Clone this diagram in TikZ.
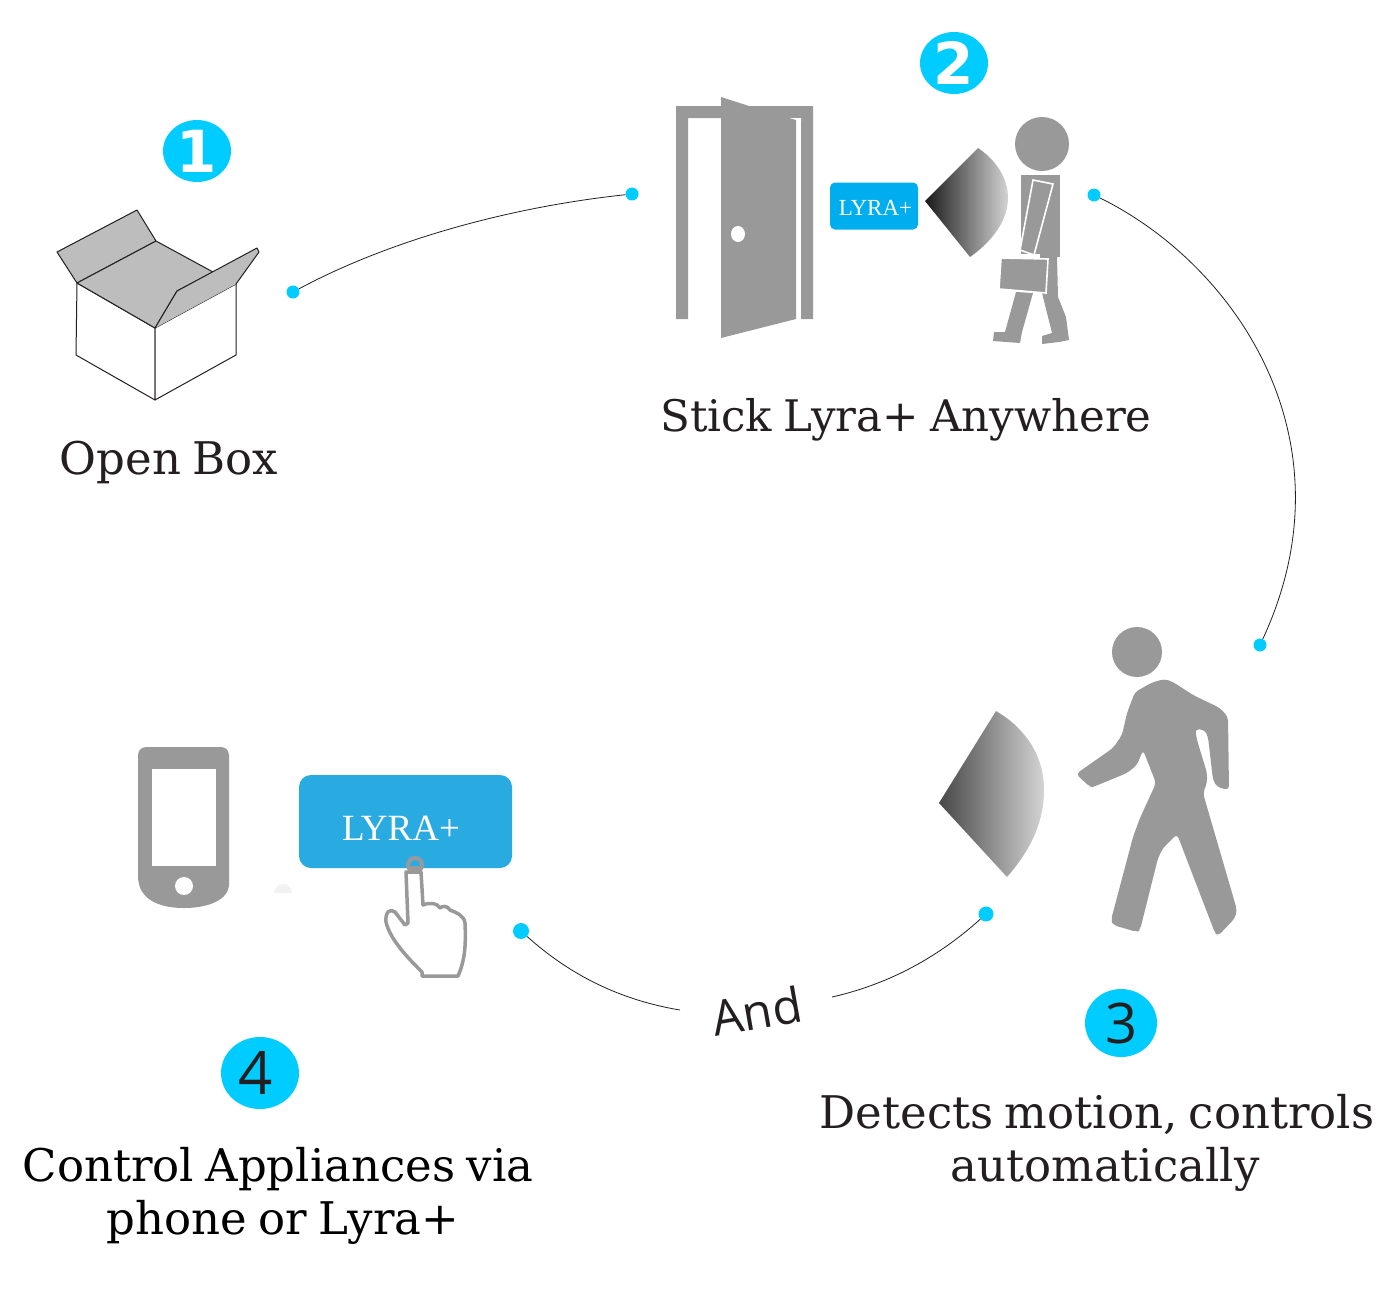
\documentclass[tikz,border=0pt]{standalone}
\usepackage{fontspec}
\setmainfont[WordSpace=0.8]{DejaVu Serif}
\setsansfont{Open Sans}
\newfontfamily\boxfont{Liberation Serif}
\newfontfamily\digitfont{DejaVu Sans}
\usetikzlibrary{shapes.geometric}

\definecolor{badgeblue}{HTML}{00CCFF}
\definecolor{figgray}{HTML}{999999}
\definecolor{flapgray}{HTML}{BDBDBD}
\definecolor{smallblue}{HTML}{00AEEF}
\definecolor{bigblue}{HTML}{29ABE2}
\definecolor{inkgray}{HTML}{231F20}

\tikzset{
  dot/.style={circle,fill=badgeblue,inner sep=0pt,minimum size=#1},
  badge/.style={ellipse,fill=badgeblue,inner sep=0pt},
  caption/.style={inkgray,font=\fontsize{#1}{53}\selectfont,align=center,inner sep=0pt},
  caption/.default=45,
  link/.style={draw=inkgray,line width=0.8pt},
  boxline/.style={draw=inkgray,line width=1pt,line join=round},
  lyra/.style={rectangle,text=white,inner sep=0pt,font=\boxfont}
}

\begin{document}
\begin{tikzpicture}[x=1pt,y=-1pt]

  \useasboundingbox (0,0) rectangle (1388,1299);

  %% connectors
  \node[dot=13pt] (dotA) at (293,292) {};
  \node[dot=13pt] (dotB) at (632,194) {};
  \node[dot=13pt] (dotC) at (1094,195) {};
  \node[dot=13pt] (dotD) at (1260,645) {};
  \node[dot=15pt] (dotE) at (986,914) {};
  \node[dot=16pt] (dotF) at (521,931) {};
  \coordinate (andR) at (832,997);
  \coordinate (andL) at (680,1010);

  \draw[link] (dotA) .. controls (390,240) and (510,207) .. (dotB);
  \draw[link] (dotC) .. controls (1236,265) and (1355,440) .. (dotD);
  \draw[link] (dotE) .. controls (935,960) and (885,985) .. (andR);
  \draw[link] (andL) .. controls (620,1000) and (570,975) .. (dotF);

  \node[rotate=10,font=\sffamily\fontsize{48.5}{48.5}\selectfont,text=inkgray,inner sep=0pt]
    (andText) at (757,1011) {And};

  %% box
  \draw[boxline,fill=white] (77,283)--(155,328)--(155,400)--(76,355)--cycle;
  \draw[boxline,fill=white] (155,328)--(236,284)--(236,355)--(155,400)--cycle;
  \draw[boxline,fill=flapgray] (57,252)--(137,210)--(156,241)--(77,283)--cycle;
  \draw[boxline,fill=flapgray] (77,283)--(156,241)--(213,272)--(177,291)--(155,328)--cycle;
  \fill[flapgray] (177,291)--(257,248)--(259,252)--(236,284)--(155,328)--cycle;
  \draw[boxline] (155,328)--(177,291)--(257,248)--(259,252)--(236,284);

  %% door
  \fill[figgray] (676,319)--(676,106)--(813,106)--(813,319)--(801,319)--(801,118)
    --(688,118)--(688,319)--cycle;
  \fill[white] (789,118)--(801,118)--(801,122)--(796,122)--cycle;
  \fill[figgray] (721,97)--(749,106)--(760,118)--(789,118)--(796,120)--(796,319)
    --(721,338)--cycle;
  \fill[white] (738,234) ellipse (7 and 8);

  %% small device and sensor cone
  \node[lyra,fill=smallblue,rounded corners=5pt,minimum width=88pt,minimum height=47pt]
    (lyraSmall) at (874,206) {};
  \node[lyra,font=\boxfont\fontsize{23}{23}\selectfont] (lyraSmallText) at (875.5,208) {LYRA+};
  \shade[left color=black!90,right color=black!17]
    (925,201)--(978,148) .. controls (996,160) and (1008,178) .. (1008,198)
    .. controls (1008,222) and (990,243) .. (970,257)--cycle;

  %% man with briefcase
  \fill[figgray] (1042,144) circle (27);
  \fill[figgray] (1021,175)--(1060,175)--(1060,257)--(1021,257)--cycle;
  \fill[figgray] (1016,292)--(1005,332)--(994,332)--(993,341)--(1020,343)--(1022,332)
    --(1033,293)--cycle;
  \fill[figgray] (1042,293)--(1052,333)--(1042,336)--(1042,344)--(1059,342)--(1069,340)
    --(1066,317)--(1058,297)--(1057,257)--(1035,257)--cycle;
  \draw[draw=white,line width=1.6pt,fill=figgray] (1033,180)--(1053,184)--(1034,255)
    --(1020,250)--cycle;
  \fill[white] (1021,254) rectangle (1040,258);
  \draw[draw=white,line width=1.6pt,fill=figgray] (1001,258)--(1048,259)--(1046,293)
    --(999,289)--cycle;

  %% walker and its cone
  \fill[figgray] (1137,652) circle (25);
  \fill[figgray,rounded corners=4pt] (1135,692)--(1153,682)--(1165,679)--(1173,682)
    --(1193,695)--(1220,708)--(1228,717)--(1229,790)--(1217,787)--(1213,780)--(1208,737)
    --(1205,730)--(1195,729)--(1197,740)--(1207,773)--(1207,783)--(1203,793)--(1207,807)
    --(1237,910)--(1235,918)--(1218,936)--(1215,933)--(1177,834)--(1163,848)--(1158,858)
    --(1140,930)--(1137,932)--(1113,925)--(1111,920)--(1133,837)--(1140,818)--(1156,783)
    --(1143,750)--(1137,765)--(1127,773)--(1093,787)--(1090,787)--(1076,774)--(1093,762)
    --(1113,748)--(1122,735)--(1127,713)--cycle;
  \shade[left color=black!72,right color=black!17]
    (939,803)--(996,711) .. controls (1025,728) and (1044,755) .. (1044,790)
    .. controls (1044,825) and (1028,853) .. (1007,877)--cycle;

  %% phone
  \fill[figgray] (138,876) [rounded corners=8pt] --(138,747)--(229,747)--(229,876) [sharp corners]
    .. controls (229,900) and (208,908) .. (184,908)
    .. controls (160,908) and (138,900) .. (138,876)--cycle;
  \fill[white] (152,769) rectangle (216,866);
  \fill[white] (184,886) circle (9);
  \fill[black!5] (274,893) arc[start angle=180,end angle=360,radius=9]--cycle;

  %% big device and hand
  \node[lyra,fill=bigblue,rounded corners=12pt,minimum width=213pt,minimum height=93pt]
    (lyraBig) at (405.5,821.5) {};
  \node[lyra,font=\boxfont\fontsize{37}{37}\selectfont] (lyraBigText) at (401,828) {LYRA+};
  \draw[figgray,line width=3.5pt,line join=round,fill=white]
    (406,872)--(408,923)--(405,925)--(395,912) .. controls (390,908) and (385,912) .. (386,922)
    .. controls (390,940) and (410,960) .. (422,972)--(422,976)--(458,976)
    .. controls (465,960) and (466,945) .. (465,923) .. controls (464,915) and (455,912) .. (450,910)
    .. controls (447,905) and (442,906) .. (440,908) .. controls (437,903) and (430,902) .. (423,905)
    --(421,872)--cycle;
  \draw[figgray,line width=4pt] (415,865) circle (7);
  \fill[figgray] (408,866) rectangle (422,874);

  %% badges
  \node[badge,minimum width=68pt,minimum height=62pt,text=white,
    font=\digitfont\bfseries\fontsize{58}{58}\selectfont] (badgeOne) at (197,151) {1};
  \node[badge,minimum width=68pt,minimum height=62pt,text=white,
    font=\digitfont\bfseries\fontsize{58}{58}\selectfont] (badgeTwo) at (954,63) {2};
  \node[badge,minimum width=72pt,minimum height=68pt,text=inkgray,
    font=\sffamily\fontsize{56}{56}\selectfont] (badgeThree) at (1121,1023) {3};
  \node[badge,minimum width=78pt,minimum height=72pt,text=inkgray,
    font=\sffamily\fontsize{60}{60}\selectfont] (badgeFour) at (260,1073) {\hspace*{-8pt}4};

  %% captions
  \node[caption] (capOne) at (169,462) {Open Box};
  \node[caption=43.5] (capTwo) at (906,420) {Stick Lyra+ Anywhere};
  \node[caption] (capThree) at (1105,1143) {Detects motion, controls\hspace*{16pt}\\automatically};
  \node[caption,text=black] (capFour) at (283,1196) {Control Appliances via\hspace*{10pt}\\phone or Lyra+};

\end{tikzpicture}
\end{document}
